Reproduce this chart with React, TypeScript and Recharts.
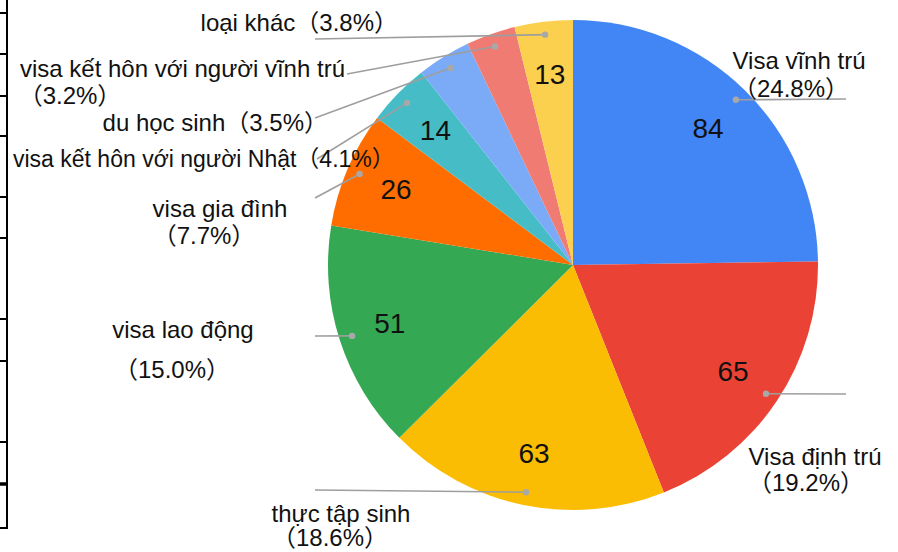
import React from 'react';
import { PieChart, Pie, Cell } from 'recharts';

const categories = [
  'Visa vĩnh trú',
  'Visa định trú',
  'thực tập sinh',
  'visa lao động',
  'visa gia đình',
  'visa kết hôn với người Nhật',
  'du học sinh',
  'visa kết hôn với người vĩnh trú',
  'loại khác',
];
const values = [84, 65, 63, 51, 26, 14, 12, 11, 13];
const colors = ['#4285F4', '#EA4335', '#FBBC04', '#34A853', '#FF6D01', '#46BDC6', '#7BAAF7', '#F07B72', '#FCD04F'];

// annotation layout (line end point and text lines) for each slice
type TextLine = { kind: 'name' | 'pct' | 'both'; x: number; y: number; anchor: 'start' | 'middle' | 'end'; size?: number };
const labelLineEnds: [number, number][] = [
  [846, 99],
  [846, 394],
  [315, 490],
  [315, 336],
  [315, 198],
  [317, 159],
  [315, 118],
  [347, 74],
  [315, 39],
];
const labelTexts: TextLine[][] = [
  [{ kind: 'name', x: 799, y: 69, anchor: 'middle' }, { kind: 'pct', x: 791, y: 97, anchor: 'middle' }],
  [{ kind: 'name', x: 815, y: 465, anchor: 'middle' }, { kind: 'pct', x: 806, y: 491, anchor: 'middle' }],
  [{ kind: 'name', x: 341, y: 522, anchor: 'middle' }, { kind: 'pct', x: 330, y: 546, anchor: 'middle' }],
  [{ kind: 'name', x: 183, y: 338, anchor: 'middle' }, { kind: 'pct', x: 172, y: 378, anchor: 'middle' }],
  [{ kind: 'name', x: 220, y: 217, anchor: 'middle' }, { kind: 'pct', x: 204, y: 244, anchor: 'middle' }],
  [{ kind: 'both', x: 13, y: 167, anchor: 'start', size: 23 }],
  [{ kind: 'both', x: 328, y: 131, anchor: 'end' }],
  [{ kind: 'name', x: 345, y: 77, anchor: 'end' }, { kind: 'pct', x: 70, y: 104, anchor: 'middle' }],
  [{ kind: 'both', x: 398, y: 31, anchor: 'end' }],
];

const borderTicks = [13, 54, 96, 136, 197, 238, 319, 361, 442, 484, 528];

const total = values.reduce((a, b) => a + b, 0);
const data = categories.map((name, i) => ({ name, value: values[i] }));

const FONT = '"Liberation Sans", Arial, "Noto Sans CJK JP", sans-serif';

const renderLabel = (props: any) => {
  const { cx, cy, midAngle, outerRadius, index, value } = props;
  const RAD = Math.PI / 180;
  const pt = (r: number) => [cx + r * Math.cos(-midAngle * RAD), cy + r * Math.sin(-midAngle * RAD)];
  const [dx, dy] = pt(outerRadius * 0.947);
  const [nx, ny] = pt(outerRadius * 0.785);
  const [ex, ey] = labelLineEnds[index];
  const pct = `（${((value / total) * 100).toFixed(1)}%）`;
  const name = categories[index];
  return (
    <g key={`lbl-${index}`}>
      {value >= 13 && (
        <text x={nx} y={ny} textAnchor="middle" dominantBaseline="central" fontSize={28} fill="#111" fontFamily={FONT}>
          {value}
        </text>
      )}
      <line x1={dx} y1={dy} x2={ex} y2={ey} stroke="#9e9e9e" strokeWidth={1.6} />
      <circle cx={dx} cy={dy} r={3.2} fill="#a8a8a8" />
      {labelTexts[index].map((t, j) => (
        <text key={j} x={t.x} y={t.y} textAnchor={t.anchor} fontSize={t.size ?? 24} fill="#111" fontFamily={FONT}>
          {t.kind === 'name' ? name : t.kind === 'pct' ? pct : name + pct}
        </text>
      ))}
    </g>
  );
};

export default function App() {
  return (
    <div style={{ position: 'absolute', left: 0, top: 0, width: 898, height: 552, background: '#fff' }}>
      <svg width={898} height={552} style={{ position: 'absolute', left: 0, top: 0 }}>
        <line x1={7} y1={0} x2={7} y2={529} stroke="#000" strokeWidth={2} />
        {borderTicks.map((y, i) => (
          <line key={i} x1={0} y1={y} x2={8} y2={y} stroke="#000" strokeWidth={i === 9 ? 3.5 : 2} />
        ))}
      </svg>
      <div style={{ position: 'absolute', left: 0, top: 0 }}>
        <PieChart width={898} height={552} margin={{ top: 0, right: 0, bottom: 0, left: 0 }}>
          <Pie
            data={data}
            dataKey="value"
            nameKey="name"
            cx={573}
            cy={265}
            outerRadius={245}
            startAngle={90}
            endAngle={-270}
            stroke="none"
            isAnimationActive={false}
            labelLine={false}
            label={renderLabel}
          >
            {data.map((d, i) => (
              <Cell key={d.name} fill={colors[i]} />
            ))}
          </Pie>
        </PieChart>
      </div>
    </div>
  );
}
